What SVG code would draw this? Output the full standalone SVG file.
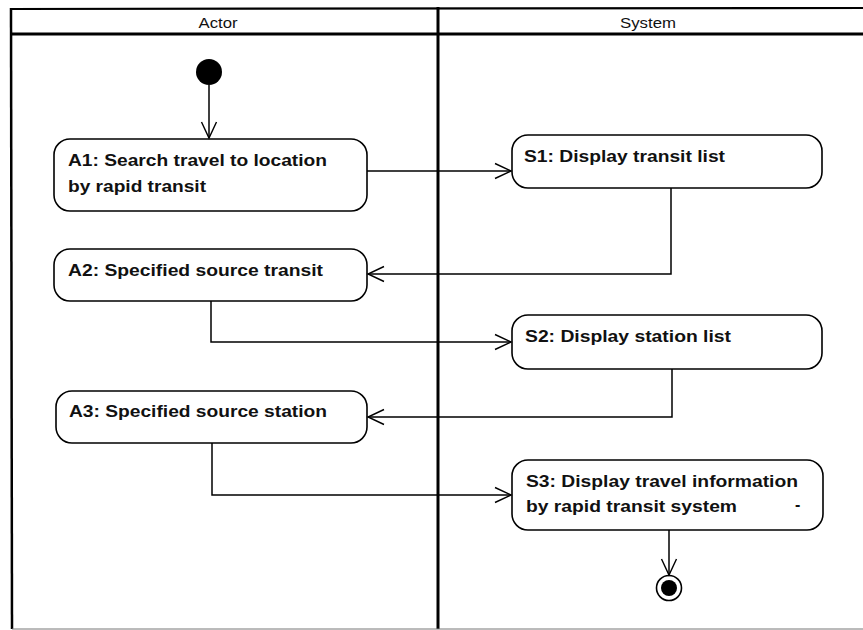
<svg xmlns="http://www.w3.org/2000/svg" width="863" height="630" viewBox="0 0 863 630">
<style>
.frame{stroke:#000;fill:none}
.node{fill:#fff;stroke:#000;stroke-width:1.6}
.lbl{font-family:"Liberation Sans",Arial,sans-serif;font-weight:bold;font-size:16px;fill:#111}
.hdr{font-family:"Liberation Sans",Arial,sans-serif;font-size:14px;fill:#111}
.conn{fill:none;stroke:#000;stroke-width:1.5}
</style>
<defs>
<marker id="arr" markerUnits="userSpaceOnUse" markerWidth="20" markerHeight="20" viewBox="-17 -10 20 20" refX="0" refY="0" orient="auto">
<path d="M-16,-7.5 L0,0 L-16,7.5" fill="none" stroke="#000" stroke-width="1.4"/>
</marker>
</defs>
<rect width="863" height="630" fill="#fff"/>
<g id="swimlanes">
<line class="frame" x1="10" y1="9" x2="863" y2="8" stroke-width="2.2"/>
<line class="frame" x1="10" y1="34" x2="863" y2="34" stroke-width="3"/>
<line class="frame" x1="11" y1="8" x2="12" y2="629" stroke-width="2.5"/>
<line class="frame" x1="438" y1="7" x2="438" y2="629" stroke-width="3"/>
<line x1="12" y1="629" x2="863" y2="629" stroke="#777" stroke-width="1"/>
<text class="hdr" x="218" y="28" text-anchor="middle" textLength="39" lengthAdjust="spacingAndGlyphs">Actor</text>
<text class="hdr" x="648" y="28" text-anchor="middle" textLength="56" lengthAdjust="spacingAndGlyphs">System</text>
</g>
<g id="start"><circle cx="209" cy="72" r="13" fill="#000"/></g>
<g id="A1">
<rect class="node" x="54" y="139" width="313" height="72" rx="16"/>
<text class="lbl" x="68" y="166" textLength="259" lengthAdjust="spacingAndGlyphs">A1: Search travel to location</text>
<text class="lbl" x="68" y="192" textLength="138" lengthAdjust="spacingAndGlyphs">by rapid transit</text>
</g>
<g id="A2">
<rect class="node" x="54" y="249" width="313" height="52" rx="16"/>
<text class="lbl" x="68" y="276" textLength="255" lengthAdjust="spacingAndGlyphs">A2: Specified source transit</text>
</g>
<g id="A3">
<rect class="node" x="56" y="391" width="311" height="52" rx="16"/>
<text class="lbl" x="69" y="417" textLength="258" lengthAdjust="spacingAndGlyphs">A3: Specified source station</text>
</g>
<g id="S1">
<rect class="node" x="512" y="135" width="310" height="53" rx="16"/>
<text class="lbl" x="524" y="162" textLength="201" lengthAdjust="spacingAndGlyphs">S1: Display transit list</text>
</g>
<g id="S2">
<rect class="node" x="512" y="315" width="310" height="54" rx="16"/>
<text class="lbl" x="525" y="342" textLength="206" lengthAdjust="spacingAndGlyphs">S2: Display station list</text>
</g>
<g id="S3">
<rect class="node" x="512" y="460" width="311" height="70" rx="16"/>
<text class="lbl" x="526" y="487" textLength="272" lengthAdjust="spacingAndGlyphs">S3: Display travel information</text>
<text class="lbl" x="526" y="512" textLength="211" lengthAdjust="spacingAndGlyphs">by rapid transit system</text>
<text class="lbl" x="795" y="510">-</text>
</g>
<g id="end">
<circle cx="669" cy="588" r="12.5" fill="#fff" stroke="#000" stroke-width="1.6"/>
<circle cx="669" cy="588" r="8" fill="#000"/>
</g>
<g id="connectors">
<path class="conn" d="M209,85 V138" marker-end="url(#arr)"/>
<path class="conn" d="M367,171 H511" marker-end="url(#arr)"/>
<path class="conn" d="M671,188 V274 H368" marker-end="url(#arr)"/>
<path class="conn" d="M211,301 V342 H511" marker-end="url(#arr)"/>
<path class="conn" d="M672,369 V417 H368" marker-end="url(#arr)"/>
<path class="conn" d="M212,443 V495 H511" marker-end="url(#arr)"/>
<path class="conn" d="M669,530 V575" marker-end="url(#arr)"/>
</g>
</svg>
